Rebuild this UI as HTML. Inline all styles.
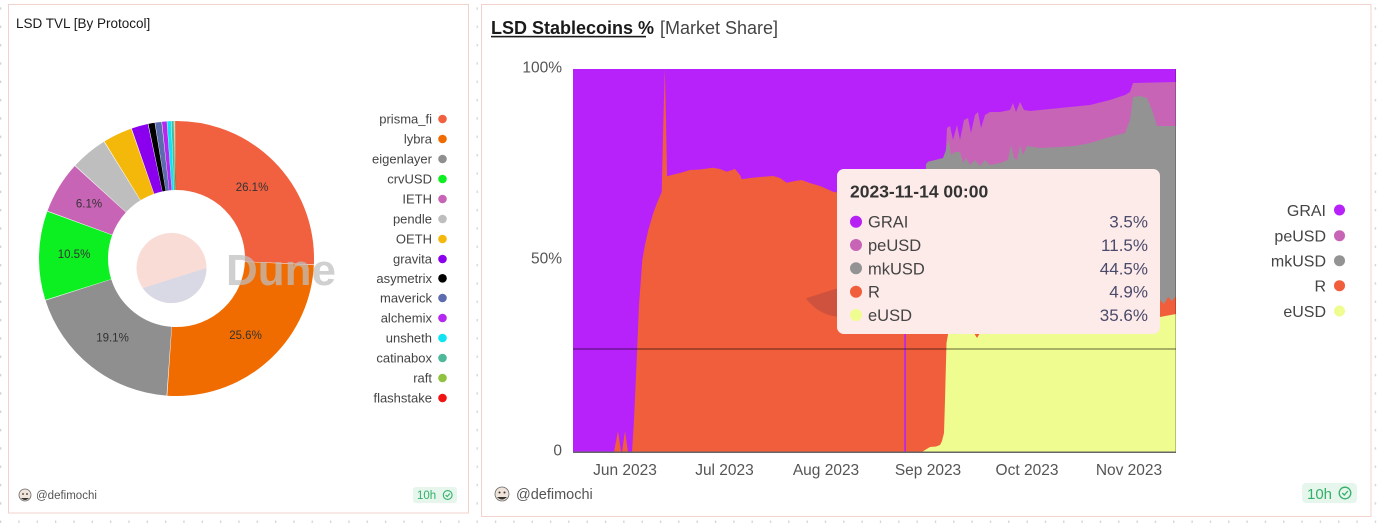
<!DOCTYPE html>
<html><head><meta charset="utf-8"><style>
html,body{margin:0;padding:0;background:#fff;}
body{width:1381px;height:523px;overflow:hidden;position:relative;}
svg{position:absolute;left:0;top:0;display:block;}
text{font-family:"Liberation Sans",sans-serif;}
</style></head><body>
<svg width="1381" height="523" viewBox="0 0 1381 523" xmlns="http://www.w3.org/2000/svg">
<defs>
<pattern id="dots" patternUnits="userSpaceOnUse" x="0" y="7.3" width="18.33" height="18.33">
<rect x="0" y="0" width="1.3" height="2.4" fill="#d2d2d2"/>
</pattern>
</defs>
<rect x="0" y="0" width="1381" height="523" fill="url(#dots)"/>

<!-- LEFT PANEL -->
<rect x="8.5" y="4.5" width="460" height="508.5" fill="#fff" stroke="#f2d2cc" stroke-width="1"/>
<text x="16" y="28" font-size="13.5" fill="#1a1a1a">LSD TVL [By Protocol]</text>

<g transform="rotate(-90 176.5 258.5)" fill="none" stroke-width="69">
<circle cx="176.5" cy="258.5" r="103" pathLength="100" stroke="#f1603f" stroke-dasharray="25.72 74.28" stroke-dashoffset="0"/>
<circle cx="176.5" cy="258.5" r="103" pathLength="100" stroke="#f06c00" stroke-dasharray="25.32 74.68" stroke-dashoffset="-25.8"/>
<circle cx="176.5" cy="258.5" r="103" pathLength="100" stroke="#8f8f8f" stroke-dasharray="18.92 81.08" stroke-dashoffset="-51.2"/>
<circle cx="176.5" cy="258.5" r="103" pathLength="100" stroke="#0cf022" stroke-dasharray="10.42 89.58" stroke-dashoffset="-70.2"/>
<circle cx="176.5" cy="258.5" r="103" pathLength="100" stroke="#c864b6" stroke-dasharray="6.12 93.88" stroke-dashoffset="-80.7"/>
<circle cx="176.5" cy="258.5" r="103" pathLength="100" stroke="#bebebe" stroke-dasharray="4.32 95.68" stroke-dashoffset="-86.9"/>
<circle cx="176.5" cy="258.5" r="103" pathLength="100" stroke="#f4b80a" stroke-dasharray="3.42 96.58" stroke-dashoffset="-91.3"/>
<circle cx="176.5" cy="258.5" r="103" pathLength="100" stroke="#8a00ee" stroke-dasharray="1.93 98.07" stroke-dashoffset="-94.8"/>
<circle cx="176.5" cy="258.5" r="103" pathLength="100" stroke="#000000" stroke-dasharray="0.74 99.26" stroke-dashoffset="-96.8"/>
<circle cx="176.5" cy="258.5" r="103" pathLength="100" stroke="#5c6cae" stroke-dasharray="0.74 99.26" stroke-dashoffset="-97.6"/>
<circle cx="176.5" cy="258.5" r="103" pathLength="100" stroke="#b428f0" stroke-dasharray="0.55 99.45" stroke-dashoffset="-98.4"/>
<circle cx="176.5" cy="258.5" r="103" pathLength="100" stroke="#10e4f2" stroke-dasharray="0.45 99.55" stroke-dashoffset="-99.0"/>
<circle cx="176.5" cy="258.5" r="103" pathLength="100" stroke="#4db89a" stroke-dasharray="0.26 99.74" stroke-dashoffset="-99.5"/>
<circle cx="176.5" cy="258.5" r="103" pathLength="100" stroke="#8fc23f" stroke-dasharray="0.08 99.92" stroke-dashoffset="-99.8"/>
<circle cx="176.5" cy="258.5" r="103" pathLength="100" stroke="#f21313" stroke-dasharray="0.08 99.92" stroke-dashoffset="-99.9"/>
</g>

<!-- watermark -->
<circle cx="171.5" cy="268" r="35" fill="#fadcd6"/>
<path d="M206.5,268 A35,35 0 0 1 142.8,288.1 Z" fill="#d9d9e6"/>
<text x="226" y="285" font-size="44" font-weight="bold" fill="rgb(190,190,190)" fill-opacity="0.72">Dune</text>

<g font-size="11.5" fill="#333" text-anchor="middle">
<text x="252" y="191">26.1%</text>
<text x="245.5" y="339">25.6%</text>
<text x="112.5" y="341.5">19.1%</text>
<text x="74" y="258">10.5%</text>
<text x="89" y="207.5">6.1%</text>
</g>

<g font-size="13" fill="#444" text-anchor="end">
<text x="432" y="123.5">prisma_fi</text>
<text x="432" y="143.5">lybra</text>
<text x="432" y="163.5">eigenlayer</text>
<text x="432" y="183.5">crvUSD</text>
<text x="432" y="203.5">IETH</text>
<text x="432" y="223.5">pendle</text>
<text x="432" y="243.5">OETH</text>
<text x="432" y="263.5">gravita</text>
<text x="432" y="282.8">asymetrix</text>
<text x="432" y="302.5">maverick</text>
<text x="432" y="322.5">alchemix</text>
<text x="432" y="342.5">unsheth</text>
<text x="432" y="362.5">catinabox</text>
<text x="432" y="382.5">raft</text>
<text x="432" y="402.5">flashstake</text>
</g>
<g>
<circle cx="442.5" cy="119" r="4.3" fill="#f1603f"/>
<circle cx="442.5" cy="139" r="4.3" fill="#f06c00"/>
<circle cx="442.5" cy="159" r="4.3" fill="#8f8f8f"/>
<circle cx="442.5" cy="179" r="4.3" fill="#0cf022"/>
<circle cx="442.5" cy="199" r="4.3" fill="#c864b6"/>
<circle cx="442.5" cy="219" r="4.3" fill="#bebebe"/>
<circle cx="442.5" cy="239" r="4.3" fill="#f4b80a"/>
<circle cx="442.5" cy="259" r="4.3" fill="#8a00ee"/>
<circle cx="442.5" cy="278.3" r="4.3" fill="#000"/>
<circle cx="442.5" cy="298" r="4.3" fill="#5c6cae"/>
<circle cx="442.5" cy="318" r="4.3" fill="#b428f0"/>
<circle cx="442.5" cy="338" r="4.3" fill="#10e4f2"/>
<circle cx="442.5" cy="358" r="4.3" fill="#4db89a"/>
<circle cx="442.5" cy="378" r="4.3" fill="#8fc23f"/>
<circle cx="442.5" cy="398" r="4.3" fill="#f21313"/>
</g>

<!-- left footer -->
<circle cx="25" cy="495" r="6" fill="#efe3da" stroke="#666" stroke-width="0.8"/>
<circle cx="23" cy="494" r="0.9" fill="#333"/><circle cx="27" cy="494" r="0.9" fill="#333"/>
<path d="M21,498 Q25,502 29,498" fill="#333"/>
<text x="36" y="499" font-size="11.5" fill="#555">@defimochi</text>
<rect x="413" y="487" width="44" height="16" rx="3" fill="#e6f6ec"/>
<text x="417" y="499" font-size="11.5" fill="#33b06a">10h</text>
<circle cx="447.7" cy="495" r="4.4" fill="none" stroke="#33b06a" stroke-width="1.1"/>
<path d="M445.6,495 L447.2,496.6 L449.9,493.5" fill="none" stroke="#33b06a" stroke-width="1.1"/>

<!-- RIGHT PANEL -->
<rect x="481.5" y="4.5" width="889.5" height="512" fill="#fff" stroke="#f2d2cc" stroke-width="1"/>
<text x="491" y="34" font-size="18" font-weight="bold" fill="#1a1a1a">LSD Stablecoins %</text>
<rect x="491" y="35.8" width="155" height="1.6" fill="#1a1a1a"/>
<text x="660" y="34" font-size="18" fill="#444">[Market Share]</text>

<!-- plot -->
<rect x="573" y="69" width="603" height="383" fill="#b722fb"/>
<path fill="#c864b6" d="M944,452 L945,168 L947,128 L950,126 L953,140 L957,125 L960,140 L964,120 L968,118 L971,133 L975,115 L978,112 L981,128 L985,115 L990,112 L1000,112 L1010,110 L1013,103 L1016,112 L1020,102 L1024,110 L1030,111 L1050,109 L1070,107 L1090,105 L1110,100 L1125,95 L1130,92 L1133,83 L1176,82 L1176,452 Z"/>
<path fill="#939393" d="M925,452 L926,164 L928,161.7 L943,158 L946,150 L948.5,140 L951,155 L955,152 L960,152 L963,163 L966,158 L970,165 L975,160 L980,166 L985,160 L990,165 L1000,163 L1008,160 L1011,145 L1014,158 L1017,160 L1020,145 L1023,155 L1027,146 L1040,148 L1060,147 L1075,146 L1090,143 L1100,140 L1110,137 L1117,135 L1125,133 L1130,120 L1133,97 L1140,96 L1147,98 L1152,110 L1157,126 L1176,126 L1176,452 Z"/>
<path fill="#f05e3c" d="M573,452 L614,452 L618,431 L621,452 L622,452 L625,431 L628,452 L632,452 L634,420 L636.7,360 L639,305 L642.3,260 L645,245 L648.3,230 L653.3,213 L657,203 L661.7,192 L663.4,120 L664.8,69 L666,120 L667,176 L668.3,176 L671.7,175 L680,173 L690,170 L700,169.5 L713,167.7 L720,169 L726.7,171.7 L735,169 L740,175 L741.7,179.3 L750,178 L760,177 L773,176 L780,178 L786.7,182.7 L795,181 L801.7,180 L807,182 L813,184 L820,186 L827,189 L833,191.7 L840,193 L870,196 L900,198 L944,200 L945.5,330 L980,332 L1100,330 L1150,318 L1156,305 L1160,300 L1164,304 L1168,297 L1172,301 L1176,296 L1176,452 Z"/>
<path fill="#effc8f" d="M922,452 L925,450 L930,447 L936,446.5 L940,445 L942,441 L944,433 L945,400 L946.5,343 L948.3,333 L955,326 L970,332 L974,333 L977,338 L980,333 L1000,330 L1100,328 L1150,320 L1160,317 L1176,314 L1176,452 Z"/>
<rect x="904.3" y="69" width="1.6" height="383" fill="#b722fb"/>
<path d="M886,273 A44,44 0 0 1 806,298.3 Z" fill="rgb(60,30,70)" fill-opacity="0.18"/>
<rect x="573" y="348" width="603" height="2" fill="#000" fill-opacity="0.3"/>
<rect x="1175" y="69" width="1" height="383" fill="#000" fill-opacity="0.22"/>
<rect x="573" y="451.5" width="603" height="1.5" fill="#666"/>

<g font-size="15.5" fill="#555">
<text x="562" y="72.7" text-anchor="end">100%</text>
<text x="562" y="263.5" text-anchor="end">50%</text>
<text x="562" y="455.5" text-anchor="end">0</text>
<text x="625" y="475" text-anchor="middle">Jun 2023</text>
<text x="724.5" y="475" text-anchor="middle">Jul 2023</text>
<text x="826" y="475" text-anchor="middle">Aug 2023</text>
<text x="928" y="475" text-anchor="middle">Sep 2023</text>
<text x="1027" y="475" text-anchor="middle">Oct 2023</text>
<text x="1129" y="475" text-anchor="middle">Nov 2023</text>
</g>

<!-- tooltip -->
<rect x="837" y="169" width="323" height="165" rx="7" fill="#fdebea"/>
<text x="850" y="197.5" font-size="17.5" font-weight="bold" fill="#333">2023-11-14 00:00</text>
<circle cx="856" cy="221.7" r="6" fill="#b620f5"/>
<circle cx="856" cy="245" r="6" fill="#c864b6"/>
<circle cx="856" cy="268.3" r="6" fill="#939393"/>
<circle cx="856" cy="291.7" r="6" fill="#f05e3c"/>
<circle cx="856" cy="315" r="6" fill="#effc8f"/>
<g font-size="16.5" fill="#444">
<text x="868" y="227.7">GRAI</text>
<text x="868" y="251">peUSD</text>
<text x="868" y="274.3">mkUSD</text>
<text x="868" y="297.7">R</text>
<text x="868" y="321">eUSD</text>
</g>
<g font-size="17" fill="#4a4a6a" text-anchor="end">
<text x="1148" y="227.7">3.5%</text>
<text x="1148" y="251">11.5%</text>
<text x="1148" y="274.3">44.5%</text>
<text x="1148" y="297.7">4.9%</text>
<text x="1148" y="321">35.6%</text>
</g>

<!-- right legend -->
<g font-size="16" fill="#444" text-anchor="end">
<text x="1326" y="215.8">GRAI</text>
<text x="1326" y="241.5">peUSD</text>
<text x="1326" y="266.5">mkUSD</text>
<text x="1326" y="291.5">R</text>
<text x="1326" y="316.8">eUSD</text>
</g>
<circle cx="1339.5" cy="210" r="5.5" fill="#b722fb"/>
<circle cx="1339.5" cy="235.7" r="5.5" fill="#c864b6"/>
<circle cx="1339.5" cy="260.7" r="5.5" fill="#939393"/>
<circle cx="1339.5" cy="285.7" r="5.5" fill="#f05e3c"/>
<circle cx="1339.5" cy="311" r="5.5" fill="#effc8f"/>

<!-- right footer -->
<circle cx="502" cy="494" r="7" fill="#efe3da" stroke="#666" stroke-width="0.8"/>
<circle cx="499.5" cy="492.5" r="1" fill="#333"/><circle cx="504.5" cy="492.5" r="1" fill="#333"/>
<path d="M497,497 Q502,502 507,497" fill="#333"/>
<text x="516" y="499" font-size="14.5" fill="#555">@defimochi</text>
<rect x="1302" y="483" width="55" height="20" rx="4" fill="#e6f6ec"/>
<text x="1307" y="499" font-size="15" fill="#33b06a">10h</text>
<circle cx="1345" cy="493" r="5.8" fill="none" stroke="#33b06a" stroke-width="1.3"/>
<path d="M1342.3,493 L1344.3,495 L1347.8,491" fill="none" stroke="#33b06a" stroke-width="1.3"/>
</svg>
</body></html>
